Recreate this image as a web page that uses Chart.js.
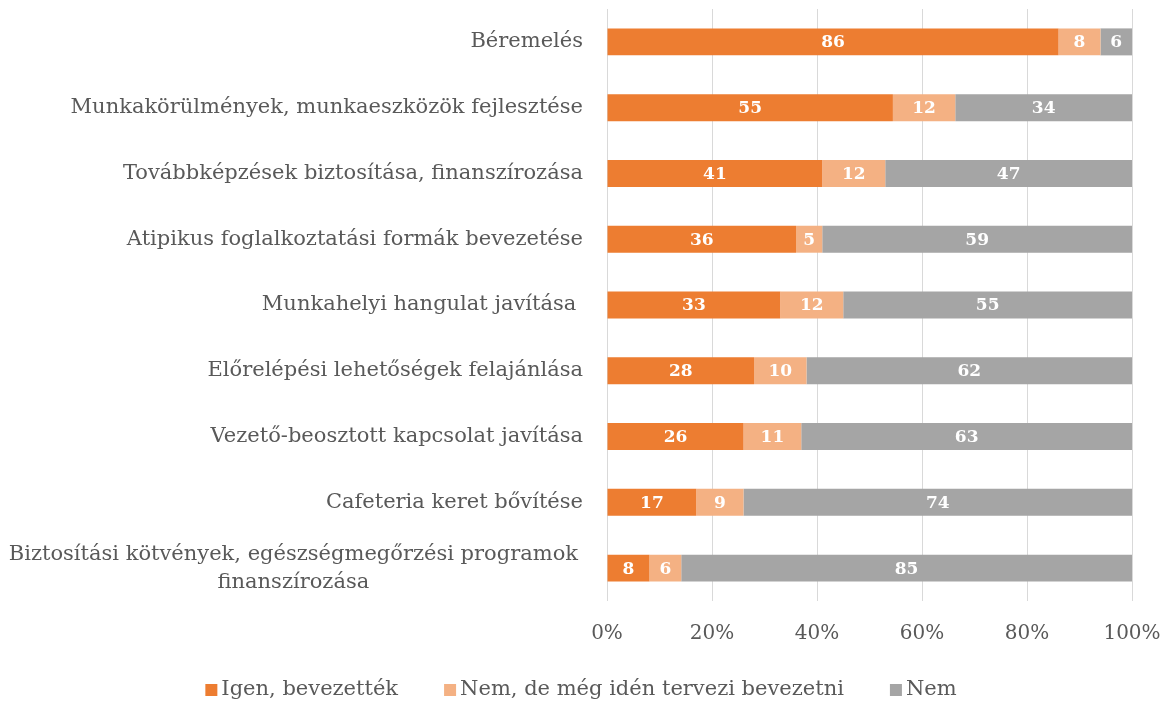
<!DOCTYPE html>
<html>
<head>
<meta charset="utf-8">
<script src="https://cdn.jsdelivr.net/npm/chart.js@4/dist/chart.umd.min.js"></script>
<style>
  html, body { margin: 0; padding: 0; background: #fff; }
  #wrap { width: 1167px; height: 704px; }
</style>
</head>
<body>
<div id="wrap"><canvas id="chart" width="1167" height="704"></canvas></div>
<script>
const categories = [
    'Béremelés',
    'Munkakörülmények, munkaeszközök fejlesztése',
    'Továbbképzések biztosítása, finanszírozása',
    'Atipikus foglalkoztatási formák bevezetése',
    'Munkahelyi hangulat javítása ',
    'Előrelépési lehetőségek felajánlása',
    'Vezető-beosztott kapcsolat javítása',
    'Cafeteria keret bővítése',
    ['Biztosítási kötvények, egészségmegőrzési programok', 'finanszírozása']
];
const seriesNames = ['Igen, bevezették', 'Nem, de még idén tervezi bevezetni', 'Nem'];
const igen = [86, 55, 41, 36, 33, 28, 26, 17, 8];
const tervezi = [8, 12, 12, 5, 12, 10, 11, 9, 6];
const nem = [6, 34, 47, 59, 55, 62, 63, 74, 85];
const colors = ['#ED7D31', '#F4B183', '#A5A5A5'];

const FONT = "'DejaVu Serif', 'Liberation Serif', serif";
const TEXT = '#595959';

// 100% stacked: scale every row to its own total
const raw = [igen, tervezi, nem];
const totals = categories.map((c, i) => igen[i] + tervezi[i] + nem[i]);
const datasets = raw.map((vals, k) => ({
    label: seriesNames[k],
    data: vals.map((v, i) => v / totals[i] * 100),
    rawValues: vals,
    backgroundColor: colors[k],
    borderWidth: 0,
    categoryPercentage: 1,
    barPercentage: 0.41
}));

// y-axis labels drawn by hand: right aligned block, lines centred inside it
const yLabels = {
    id: 'yLabels',
    afterDraw(chart) {
        const ctx = chart.ctx;
        const y = chart.scales.y;
        const lh = 28;
        ctx.save();
        ctx.font = '21px ' + FONT;
        ctx.fillStyle = TEXT;
        ctx.textBaseline = 'middle';
        categories.forEach((lab, i) => {
            const cy = y.getPixelForValue(i);
            const lines = Array.isArray(lab) ? lab : [lab];
            const maxW = Math.max(...lines.map(l => ctx.measureText(l).width));
            lines.forEach((l, j) => {
                const ly = cy + (j - (lines.length - 1) / 2) * lh;
                if (lines.length === 1) {
                    ctx.textAlign = 'right';
                    ctx.fillText(l, 583, ly);
                } else {
                    ctx.textAlign = 'center';
                    ctx.fillText(l, 578 - maxW / 2, ly);
                }
            });
        });
        ctx.restore();
    }
};

// value labels inside the bars
const barLabels = {
    id: 'barLabels',
    afterDatasetsDraw(chart) {
        const ctx = chart.ctx;
        ctx.save();
        ctx.font = 'bold 17px ' + FONT;
        ctx.fillStyle = '#ffffff';
        ctx.textAlign = 'center';
        ctx.textBaseline = 'middle';
        chart.data.datasets.forEach((ds, k) => {
            chart.getDatasetMeta(k).data.forEach((bar, i) => {
                const cx = (bar.x + bar.base) / 2;
                ctx.fillText(String(ds.rawValues[i]), cx, bar.y + 1);
            });
        });
        ctx.restore();
    }
};

// legend drawn by hand so the box/text gap matches (small square, tight gap)
const bottomLegend = {
    id: 'bottomLegend',
    afterDraw(chart) {
        const ctx = chart.ctx;
        const box = 12, gap = 4, spacing = 46, cy = 690, cx = 581;
        ctx.save();
        ctx.font = '21px ' + FONT;
        ctx.textBaseline = 'middle';
        ctx.textAlign = 'left';
        const items = chart.data.datasets.map(ds => ({
            text: ds.label,
            color: ds.backgroundColor,
            w: box + gap + ctx.measureText(ds.label).width
        }));
        const total = items.reduce((s, it) => s + it.w, 0) + spacing * (items.length - 1);
        let x = cx - total / 2;
        items.forEach(it => {
            ctx.fillStyle = it.color;
            ctx.fillRect(x, cy - box / 2, box, box);
            ctx.fillStyle = TEXT;
            ctx.fillText(it.text, x + box + gap, cy);
            x += it.w + spacing;
        });
        ctx.restore();
    }
};

new Chart(document.getElementById('chart'), {
    type: 'bar',
    data: { labels: categories, datasets: datasets },
    plugins: [yLabels, barLabels, bottomLegend],
    options: {
        indexAxis: 'y',
        responsive: false,
        animation: false,
        layout: { padding: { top: 9, right: 35, left: 0, bottom: 37 } },
        scales: {
            x: {
                stacked: true,
                min: 0,
                max: 100,
                border: { display: false },
                grid: { color: '#D9D9D9', lineWidth: 1, drawTicks: false },
                ticks: {
                    stepSize: 20,
                    padding: 21,
                    color: TEXT,
                    font: { family: FONT, size: 20 },
                    callback: v => v + '%'
                },
                afterFit: s => { s.paddingLeft = 0; s.paddingRight = 0; }
            },
            y: {
                stacked: true,
                border: { display: false },
                grid: { display: false, drawTicks: false },
                ticks: { display: false },
                afterFit: s => { s.width = 607; }
            }
        },
        plugins: {
            legend: { display: false },
            tooltip: { enabled: false }
        }
    }
});
</script>
</body>
</html>
